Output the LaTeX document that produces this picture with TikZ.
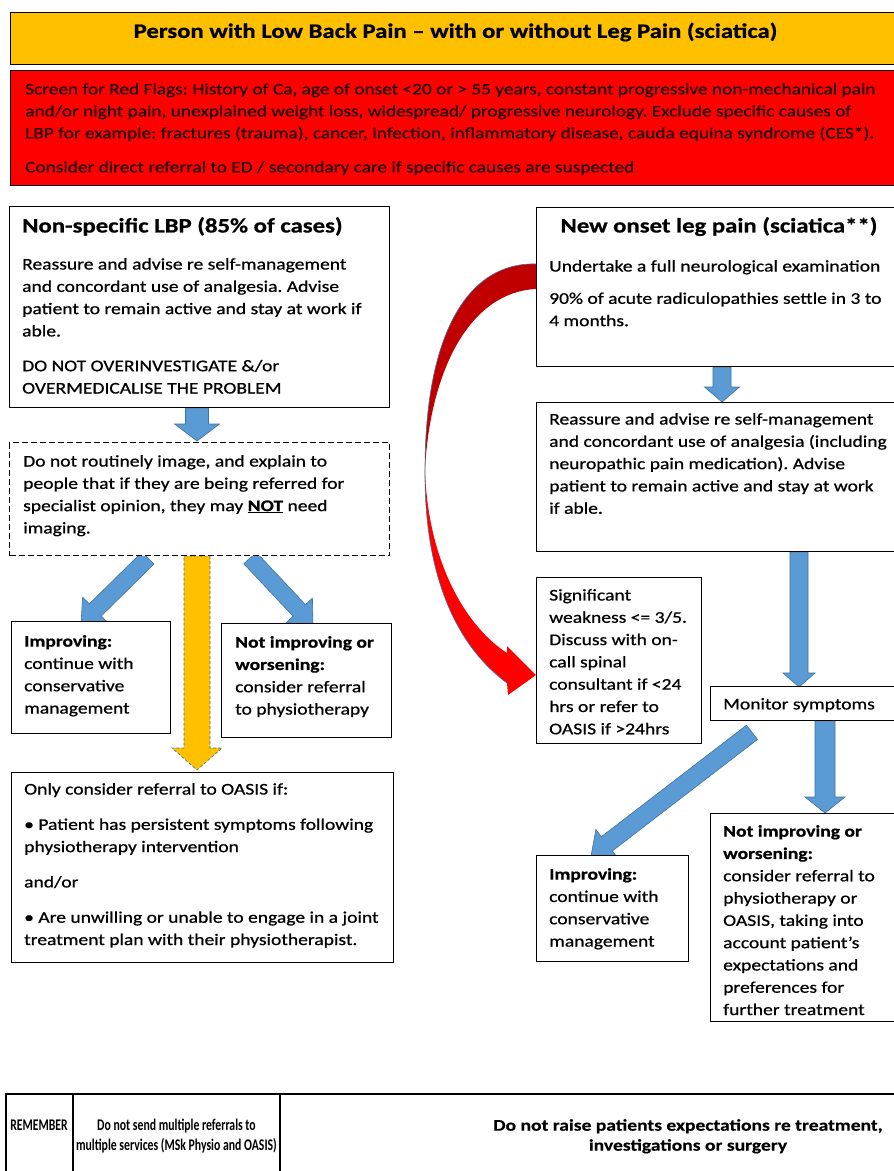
\documentclass[tikz,border=0pt]{standalone}
\usepackage{fontspec}
\setmainfont{Carlito}[FakeStretch=1.2, FakeBold=0.7]
\newfontfamily\redfam{Carlito}[FakeStretch=1.2, FakeBold=0.3]
\newfontfamily\narrowfam{Carlito}[FakeStretch=0.72]
\usetikzlibrary{calc}
\definecolor{titleor}{HTML}{FFC000}
\definecolor{flagred}{HTML}{FF0000}
\definecolor{darkred}{HTML}{C00000}
\definecolor{arrowblue}{HTML}{5B9BD5}
\definecolor{edgeblue}{HTML}{41719C}
\definecolor{redtext}{HTML}{1A0000}
\pgfdeclarelayer{bg}
\pgfsetlayers{bg,main}
\frenchspacing
\newcommand{\bodyf}{\fontsize{16.3}{22.3}\selectfont}
\newcommand{\bigf}{\fontsize{20.6}{24}\selectfont\bfseries}
\newcommand{\blockarrow}[6]{%
  \coordinate (ba-h) at ($(#2)!#5!(#1)$);
  \path[#6] ($(#1)!#3!90:(#2)$) -- ($(ba-h)!#3!90:(#2)$) -- ($(ba-h)!#4!90:(#2)$) -- (#2)
    -- ($(ba-h)!#4!-90:(#2)$) -- ($(ba-h)!#3!-90:(#2)$) -- ($(#1)!#3!-90:(#2)$) -- cycle;
}
\begin{document}
\begin{tikzpicture}[x=1pt,y=-1pt,
  box/.style={draw=black, line width=1.3pt, fill=white, inner sep=0pt, anchor=north west},
  txt/.style={anchor=north west, inner sep=0pt, align=left, font=\bodyf},
  barrow/.style={fill=arrowblue, draw=edgeblue, line width=0.6pt},
  yarrow/.style={fill=titleor, draw=edgeblue, dashed, dash pattern=on 3pt off 2pt, line width=0.6pt},
]
\path[use as bounding box] (0,0) rectangle (894,1171);

% title
\node[box, fill=titleor, minimum width=900pt, minimum height=52pt] (title) at (10,12) {};
\node[anchor=center, inner sep=0pt, font=\bigf] (title-t) at (455.5,32)
  {Person with Low Back Pain -- with or without Leg Pain (sciatica)};

% red flags
\node[box, fill=flagred, minimum width=900pt, minimum height=115pt] (flags) at (10,70) {};
\node[txt, text=redtext, font=\redfam\fontsize{16.1}{22}\selectfont] (flags-t) at (25,83)
  {Screen for Red Flags: History of Ca, age of onset <20 or > 55 years, constant progressive non-mechanical pain\\
   and/or night pain, unexplained weight loss, widespread/ progressive neurology. Exclude specific causes of\\
   LBP for example: fractures (trauma), cancer, infection, inflammatory disease, cauda equina syndrome (CES*).\\[12pt]
   Consider direct referral to ED / secondary care if specific causes are suspected};

% left column
\node[box, minimum width=380pt, minimum height=201pt] (lbp) at (9,206) {};
\node[txt, font=\bigf] (lbp-h) at (22,217) {Non-specific LBP (85\% of cases)};
\node[txt] (lbp-t) at (22,258)
  {Reassure and advise re self-management\\
   and concordant use of analgesia. Advise\\
   patient to remain active and stay at work if\\
   able.\\[12.5pt]
   DO NOT OVERINVESTIGATE \&/or\\
   OVERMEDICALISE THE PROBLEM};

\node[box, dashed, dash pattern=on 6pt off 3pt, line width=1pt, minimum width=380pt, minimum height=113pt] (dash) at (9,442) {};
\node[txt] (dash-t) at (23,455)
  {Do not routinely image, and explain to\\
   people that if they are being referred for\\
   specialist opinion, they may \underline{\textbf{NOT}} need\\
   imaging.};

\node[box, minimum width=159pt, minimum height=112pt] (impL) at (11,621) {};
\node[txt] (impL-t) at (24,635)
  {\textbf{Improving:}\\ continue with\\ conservative\\ management};

\node[box, minimum width=170pt, minimum height=114pt] (nimpL) at (221,623) {};
\node[txt] (nimpL-t) at (235,636)
  {\textbf{Not improving or}\\ \textbf{worsening:}\\ consider referral\\ to physiotherapy};

\node[box, minimum width=382pt, minimum height=190pt] (oasis) at (11,772) {};
\node[txt] (oasis-t) at (24,783)
  {Only consider referral to OASIS if:\\[13pt]
   \textbullet{} Patient has persistent symptoms following\\
   physiotherapy intervention\\[13pt]
   and/or\\[13pt]
   \textbullet{} Are unwilling or unable to engage in a joint\\
   treatment plan with their physiotherapist.};

% right column
\node[box, minimum width=364pt, minimum height=159pt] (leg) at (536,207) {};
\node[anchor=north, inner sep=0pt, font=\bigf] (leg-h) at (719,217) {New onset leg pain (sciatica**)};
\node[txt] (leg-t) at (549,260)
  {Undertake a full neurological examination\\[10pt]
   90\% of acute radiculopathies settle in 3 to\\
   4 months.};

\node[box, minimum width=364pt, minimum height=149pt] (box2) at (536,402) {};
\node[txt] (box2-t) at (549,413)
  {Reassure and advise re self-management\\
   and concordant use of analgesia (including\\
   neuropathic pain medication). Advise\\
   patient to remain active and stay at work\\
   if able.};

\node[box, minimum width=165pt, minimum height=166pt] (sig) at (536,577) {};
\node[txt] (sig-t) at (549,589)
  {Significant\\ weakness <= 3/5.\\ Discuss with on-\\ call spinal\\ consultant if <24\\ hrs or refer to\\ OASIS if >24hrs};

\node[box, minimum width=190pt, minimum height=34pt] (mon) at (710,686) {};
\node[txt] (mon-t) at (723,698) {Monitor symptoms};

\node[box, minimum width=152pt, minimum height=106pt] (impR) at (536,855) {};
\node[txt] (impR-t) at (549,868)
  {\textbf{Improving:}\\ continue with\\ conservative\\ management};

\node[box, minimum width=190pt, minimum height=208pt] (nimpR) at (710,813) {};
\node[txt] (nimpR-t) at (723,825)
  {\textbf{Not improving or}\\ \textbf{worsening:}\\ consider referral to\\ physiotherapy or\\ OASIS, taking into\\ account patient’s\\ expectations and\\ preferences for\\ further treatment};

% bottom table
\node[box, line width=2pt, minimum width=900pt, minimum height=90pt] (tbl) at (5,1093) {};
\draw[line width=2pt] ($(tbl.north west)+(68,0)$) -- ($(tbl.south west)+(68,0)$);
\draw[line width=2pt] ($(tbl.north west)+(275,0)$) -- ($(tbl.south west)+(275,0)$);
\node[anchor=center, inner sep=0pt, font=\narrowfam\fontsize{16.3}{20}\selectfont\bfseries] (rem) at (39,1125) {REMEMBER};
\node[anchor=north, inner sep=0pt, align=center, font=\narrowfam\fontsize{16.3}{20}\selectfont\bfseries] (rem2) at (176.5,1119)
  {Do not send multiple referrals to\\ multiple services (MSk Physio and OASIS)};
\node[anchor=north, inner sep=0pt, align=center, font=\redfam\fontsize{16.3}{20}\selectfont\bfseries] (rem3) at (688,1119)
  {Do not raise patients expectations re treatment,\\ investigations or surgery};

% connectors
\begin{pgfonlayer}{bg}
\fill[white] (0,0) rectangle (894,1171);
\coordinate (a1t) at ($(lbp.south west)+(188,0)$);
\coordinate (a1h) at ($(dash.north west)+(188,-1)$);
\blockarrow{a1t}{a1h}{11.5pt}{22.5pt}{17pt}{barrow}
\coordinate (a2t) at ($(dash.south west)+(139,2)$);
\coordinate (a2h) at ($(impL.north west)+(70,3)$);
\blockarrow{a2t}{a2h}{8.5pt}{18pt}{20pt}{barrow}
\coordinate (a3t) at ($(dash.south west)+(241,2)$);
\coordinate (a3h) at ($(nimpL.north west)+(92,2)$);
\blockarrow{a3t}{a3h}{8.5pt}{18pt}{20pt}{barrow}
\coordinate (a4t) at ($(dash.south west)+(188,0)$);
\coordinate (a4h) at ($(oasis.north west)+(186,-2)$);
\blockarrow{a4t}{a4h}{13pt}{25pt}{22pt}{yarrow}
\coordinate (a5t) at ($(leg.south west)+(186,0)$);
\coordinate (a5h) at ($(box2.north west)+(186,0)$);
\blockarrow{a5t}{a5h}{9pt}{17.5pt}{15pt}{barrow}
\coordinate (a6t) at ($(box2.south west)+(263,0)$);
\coordinate (a6h) at ($(mon.north west)+(89,1)$);
\blockarrow{a6t}{a6h}{9pt}{16pt}{14pt}{barrow}
\coordinate (a7t) at ($(mon.south west)+(115,0)$);
\coordinate (a7h) at ($(nimpR.north west)+(115,0)$);
\blockarrow{a7t}{a7h}{10pt}{20pt}{16pt}{barrow}
\coordinate (a8t) at ($(mon.south west)+(42,11)$);
\coordinate (a8h) at ($(impR.north west)+(55,1)$);
\blockarrow{a8t}{a8h}{9pt}{18pt}{20pt}{barrow}
% red curved arrow
\coordinate (rc1) at ($(leg.north west)+(0,57)$);
\coordinate (rc2) at ($(leg.north west)+(0,82)$);
\coordinate (rct) at ($(sig.north west)+(0,98)$);
\fill[darkred] (rc1) .. controls (470,262) and (425,330) .. (425,470)
   .. controls (430,370) and (470,292) .. (rc2) -- cycle;
\draw[edgeblue, line width=0.6pt] (rc1) .. controls (470,262) and (425,330) .. (425,470);
\fill[flagred] (425,470) .. controls (424,585) and (462,650) .. (507,683) -- (508,695) -- (rct)
   -- (507,646) -- (507,653) .. controls (468,628) and (428,565) .. (425,470) -- cycle;
\draw[edgeblue, line width=0.6pt] (425,470) .. controls (424,585) and (462,650) .. (507,683);
\end{pgfonlayer}
\end{tikzpicture}
\end{document}
